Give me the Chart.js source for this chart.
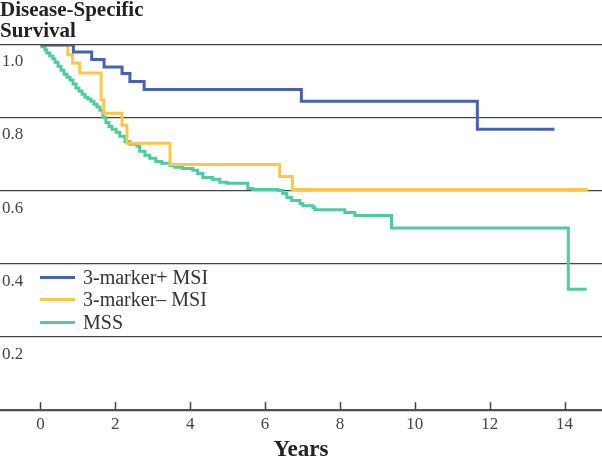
<!DOCTYPE html>
<html>
<head>
<meta charset="utf-8">
<script src="https://cdn.jsdelivr.net/npm/chart.js@4"></script>
<style>
  body { margin: 0; background: #fff; }
  #wrap { position: relative; width: 602px; height: 460px; }
  .legend { position: absolute; left: 40px; top: 265.5px; font-family: "Liberation Serif", serif; font-size: 20px; color: #333; }
  .row { position: relative; height: 22.5px; line-height: 22.5px; padding-left: 43px; white-space: nowrap; }
  .swatch { position: absolute; left: 0; top: 10px; width: 35px; height: 3px; }
</style>
</head>
<body>
<div id="wrap">
  <canvas id="kmChart"></canvas>
  <div class="legend" id="legend"></div>
</div>
<script>
// 軸目盛
const xTicks = [0, 2, 4, 6, 8, 10, 12, 14];
const yTicks = [0, 0.2, 0.4, 0.6, 0.8, 1.0];
const yTickLabels = ["", "0.2", "0.4", "0.6", "0.8", "1.0"];

const seriesNames = ["3-marker+ MSI", "3-marker\u2013 MSI", "MSS"];
const seriesColors = ["#4862b2", "#fbc74a", "#4fcc9d"];

// 3-marker+ MSI
const posMsiTime = [0, 0.88, 1.37, 1.70, 2.18, 2.39, 2.77, 6.97, 11.67, 13.73];
const posMsiSurv = [1.0, 0.981, 0.960, 0.940, 0.922, 0.900, 0.878, 0.846, 0.769, 0.769];

// 3-marker- MSI
const negMsiTime = [0, 0.73, 0.86, 1.05, 1.62, 1.69, 2.18, 2.31, 3.46, 6.39, 6.73, 14.62];
const negMsiSurv = [1.0, 0.973, 0.951, 0.923, 0.85, 0.813, 0.780, 0.731, 0.673, 0.640, 0.604, 0.604];

// MSS
const mssTime = [0, 0.04, 0.12, 0.17, 0.25, 0.33, 0.39, 0.47, 0.55, 0.63,
  0.71, 0.79, 0.87, 0.95, 1.03, 1.11, 1.19, 1.27, 1.35, 1.43,
  1.51, 1.59, 1.67, 1.75, 1.83, 1.91, 2.02, 2.12, 2.26, 2.39,
  2.58, 2.65, 2.79, 2.92, 3.08, 3.24, 3.46, 3.59, 3.80, 4.07,
  4.20, 4.34, 4.60, 4.79, 4.98, 5.54, 5.67, 6.34, 6.47, 6.58,
  6.71, 6.93, 7.01, 7.28, 7.33, 8.13, 8.40, 9.38, 14.10, 14.59];
const mssSurv = [1.0, 0.995, 0.986, 0.978, 0.970, 0.962, 0.953, 0.942, 0.931, 0.920,
  0.912, 0.904, 0.893, 0.882, 0.874, 0.865, 0.857, 0.852, 0.846, 0.838,
  0.830, 0.821, 0.802, 0.788, 0.777, 0.769, 0.761, 0.750, 0.736, 0.728,
  0.723, 0.709, 0.698, 0.690, 0.681, 0.676, 0.670, 0.665, 0.662, 0.657,
  0.648, 0.637, 0.632, 0.624, 0.621, 0.607, 0.604, 0.602, 0.593, 0.582,
  0.574, 0.566, 0.560, 0.555, 0.549, 0.541, 0.533, 0.499, 0.331, 0.331];

function toPoints(times, surv) {
  return times.map((t, i) => ({ x: t, y: surv[i] }));
}

const serif = "'Liberation Serif', 'DejaVu Serif', serif";
const allData = [
  toPoints(posMsiTime, posMsiSurv),
  toPoints(negMsiTime, negMsiSurv),
  toPoints(mssTime, mssSurv),
];

// x軸の目盛り線（内向き）
const innerTicks = {
  id: "innerTicks",
  afterDraw(chart) {
    const { ctx, scales } = chart;
    const bottom = chart.chartArea.bottom;
    ctx.save();
    ctx.strokeStyle = "#444";
    ctx.lineWidth = 1.5;
    xTicks.forEach((v) => {
      const px = Math.round(scales.x.getPixelForValue(v)) + 0.5;
      ctx.beginPath();
      ctx.moveTo(px, bottom - 8);
      ctx.lineTo(px, bottom);
      ctx.stroke();
    });
    ctx.restore();
  },
};

const ctx = document.getElementById("kmChart").getContext("2d");
const kmChart = new Chart(ctx, {
  type: "line",
  data: {
    datasets: allData.map((d, i) => ({
      label: seriesNames[i],
      data: d,
      borderColor: seriesColors[i],
      backgroundColor: seriesColors[i],
      borderWidth: 3,
      pointRadius: 0,
      stepped: "before",
      fill: false,
    })),
  },
  options: {
    responsive: true,
    maintainAspectRatio: false,
    animation: false,
    layout: { padding: 0 },
    plugins: {
      legend: { display: false },
      tooltip: { enabled: false },
      title: {
        display: true,
        text: ["Disease-Specific", "Survival"],
        align: "start",
        color: "#222",
        font: { family: serif, size: 21, weight: "bold", lineHeight: 1.0 },
        padding: { top: 0, bottom: 3 },
      },
    },
    scales: {
      x: {
        type: "linear",
        min: -1.08,
        max: 15,
        afterBuildTicks: (scale) => {
          scale.ticks = xTicks.map((v) => ({ value: v }));
        },
        grid: { drawOnChartArea: false, drawTicks: true, tickLength: -8, tickColor: "rgba(0,0,0,0)" },
        border: { display: true, color: "#555", width: 1.5 },
        ticks: {
          padding: 14,
          color: "#444",
          font: { family: serif, size: 17, lineHeight: 1.0 },
          maxRotation: 0,
          callback: (v) => String(v),
        },
        title: {
          display: true,
          text: "Years",
          color: "#222",
          font: { family: serif, size: 23, weight: "bold", lineHeight: 0.3 },
          padding: { top: 0, bottom: 6 },
        },
      },
      y: {
        min: 0,
        max: 1,
        afterBuildTicks: (scale) => {
          scale.ticks = yTicks.map((v) => ({ value: v }));
        },
        afterFit: (scale) => {
          scale.width = 0;
        },
        grid: { drawTicks: false, color: "#444", lineWidth: 1.2 },
        border: { display: false },
        ticks: {
          mirror: true,
          padding: 2,
          labelOffset: 17,
          color: "#444",
          font: { family: serif, size: 17 },
          callback: (v, i) => yTickLabels[i],
        },
      },
    },
  },
  plugins: [innerTicks],
});

// 凡例
const legendEl = document.getElementById("legend");
seriesNames.forEach((name, i) => {
  const row = document.createElement("div");
  row.className = "row";
  row.innerHTML = `<span class="swatch" style="background:${seriesColors[i]}"></span>${name}`;
  legendEl.appendChild(row);
});
</script>
</body>
</html>
